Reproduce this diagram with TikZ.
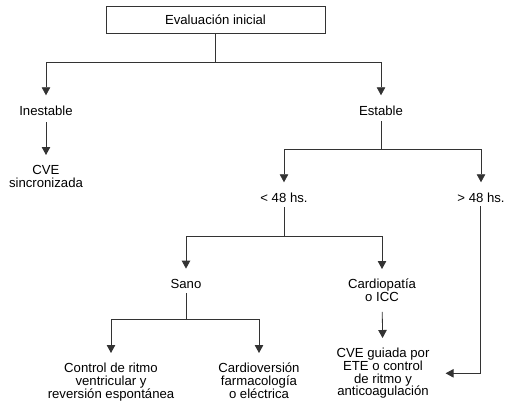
\documentclass[tikz,border=0pt]{standalone}
\usepackage{fontspec}
\setmainfont{Liberation Sans}
\usetikzlibrary{arrows.meta}
\begin{document}
\begin{tikzpicture}[x=1bp,y=-1bp,
  every node/.style={font=\fontsize{13.2}{12.7}\selectfont, inner sep=0pt, align=center},
  line/.style={draw=black!80, line width=0.8bp},
  arr/.style={line, -{Triangle[width=8.5bp,length=8bp]}, shorten >=10bp},
  titlebox/.style={draw=black!80, line width=0.8bp, minimum width=219bp, minimum height=27bp}]
\useasboundingbox (0,0) rectangle (505,401);

% nodes
\node[titlebox] (eval) at (215.5,19.5) {Evaluación inicial};
\node[anchor=base] (ines) at (46,115) {Inestable};
\node[anchor=base] (est) at (381,115) {Estable};
\node[anchor=north] (cvesin) at (46,165) {CVE\\sincronizada};
\node[anchor=base] (lt) at (284,202) {< 48 hs.};
\node[anchor=base] (gt) at (481,202) {> 48 hs.};
\node[anchor=base] (sano) at (186,288) {Sano};
\node[anchor=north] (card) at (382,279) {Cardiopatía\\o ICC};
\node[anchor=north] (ctrl) at (111,363) {Control de ritmo\\ventricular y\\reversión espontánea};
\node[anchor=north] (cardv) at (259,363) {Cardioversión\\farmacología\\o eléctrica};
\node[anchor=north] (cvg) at (383,348) {CVE guiada por\\ETE o control\\de ritmo y\\anticoagulación};

% junctions
\coordinate (j1) at (215.5,62);
\coordinate (j2) at (381,149);
\coordinate (j3) at (284,236);
\coordinate (j4) at (186,319);

% connectors
\draw[line] (eval) -- (j1);
\draw[arr] (j1) -| (ines);
\draw[arr] (j1) -| (est);
\draw[arr, shorten <=7bp] (ines) -- (cvesin);
\draw[line, shorten <=6bp] (est) -- (j2);
\draw[arr] (j2) -| (lt);
\draw[arr] (j2) -| (gt);
\draw[line, shorten <=5bp] (lt) -- (j3);
\draw[arr] (j3) -| (sano);
\draw[arr] (j3) -| (card);
\draw[line, shorten <=5bp] (sano) -- (j4);
\draw[arr] (j4) -| (ctrl);
\draw[arr] (j4) -| (cardv);
\draw[arr, shorten <=10bp] (card) -- (cvg);
\draw[arr, shorten <=4bp, shorten >=16bp] ([xshift=-1bp]gt.south) |- (cvg);
\end{tikzpicture}
\end{document}
